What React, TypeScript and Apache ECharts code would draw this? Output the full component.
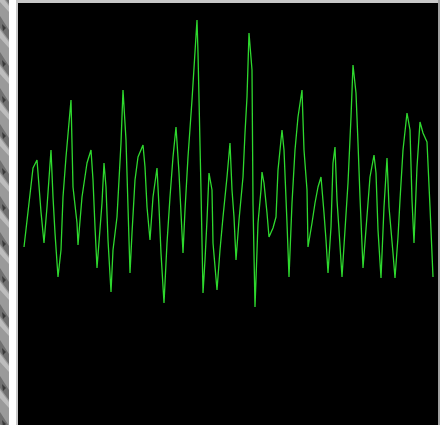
import React, { useEffect, useRef } from "react";
import * as echarts from "echarts";

// sample position (horizontal) and signal level
const sampleT = [
  6, 15, 19, 23, 26, 29, 33, 35, 37, 40, 43, 45, 48, 53, 55, 59, 60, 64, 69, 73,
  75, 77, 79, 84, 86, 88, 90, 93, 95, 99, 103, 105, 108, 110, 112, 114, 117, 120, 125, 127,
  129, 132, 135, 139, 141, 143, 146, 149, 152, 155, 158, 161, 165, 167, 170, 174, 179, 180, 183, 185,
  187, 189, 191, 194, 195, 199, 202, 205, 209, 212, 214, 216, 218, 221, 225, 227, 229, 231, 234, 235,
  237, 240, 243, 244, 246, 249, 251, 255, 258, 260, 264, 266, 269, 271, 274, 277, 280, 284, 286, 289,
  290, 294, 297, 300, 303, 306, 308, 310, 313, 315, 317, 319, 321, 324, 327, 330, 333, 335, 338, 340,
  342, 345, 350, 352, 356, 358, 360, 363, 366, 369, 371, 375, 377, 380, 382, 385, 389, 392, 394, 396,
  399, 402, 405, 409, 412, 415,
];
const signal = [
  178, 257, 265, 213, 182, 218, 275, 228, 192, 148, 175, 228, 268, 325, 238, 202, 180, 228, 262, 275,
  245, 198, 157, 222, 262, 238, 185, 133, 175, 208, 282, 335, 285, 218, 152, 192, 245, 268, 280, 258,
  218, 185, 228, 257, 218, 172, 122, 182, 228, 268, 298, 252, 172, 215, 268, 325, 405, 372, 235, 132,
  165, 205, 252, 235, 182, 135, 175, 208, 248, 282, 235, 208, 165, 205, 248, 292, 328, 392, 355, 222,
  118, 202, 235, 253, 242, 212, 188, 197, 208, 255, 295, 275, 202, 148, 222, 275, 308, 335, 275, 235,
  178, 202, 222, 238, 248, 212, 185, 152, 198, 262, 278, 225, 195, 148, 195, 242, 308, 360, 332, 282,
  228, 157, 222, 248, 270, 252, 195, 147, 218, 267, 218, 172, 147, 188, 225, 275, 312, 295, 225, 182,
  258, 303, 292, 283, 218, 148,
];

const seriesData = sampleT.map((t, i) => [t, signal[i]]);

export default function App() {
  const ref = useRef<HTMLDivElement>(null);
  useEffect(() => {
    if (!ref.current) return;
    const chart = echarts.init(ref.current, null, { renderer: "svg" });
    const ropeMarks: any[] = [];
    for (let y = -20; y < 425; y += 36) {
      ropeMarks.push({
        type: "polygon",
        shape: { points: [[0, y], [9, y + 14], [9, y + 24], [0, y + 12]] },
        style: { fill: "#707070" },
        silent: true,
      });
      ropeMarks.push({
        type: "polygon",
        shape: { points: [[0, y + 14], [9, y + 26], [9, y + 32], [0, y + 22]] },
        style: { fill: "#bdbdbd" },
        silent: true,
      });
      ropeMarks.push({
        type: "polygon",
        shape: { points: [[2, y + 8], [6, y + 12], [3, y + 15]] },
        style: { fill: "#3a3a3a" },
        silent: true,
      });
    }
    chart.setOption({
      animation: false,
      backgroundColor: "#ffffff",
      grid: {
        left: 18,
        top: 3,
        width: 420,
        height: 422,
        show: true,
        backgroundColor: "#000000",
        borderWidth: 0,
      },
      xAxis: { type: "value", min: 0, max: 420, show: false },
      yAxis: { type: "value", min: 0, max: 422, show: false },
      graphic: [
        { type: "rect", shape: { x: 0, y: 0, width: 9, height: 425 }, style: { fill: "#9a9a9a" }, silent: true },
        ...ropeMarks,
        { type: "rect", shape: { x: 16, y: 0, width: 2, height: 425 }, style: { fill: "#c8c8c8" }, silent: true },
        { type: "rect", shape: { x: 16, y: 0, width: 424, height: 3 }, style: { fill: "#c8c8c8" }, silent: true },
        { type: "rect", shape: { x: 438, y: 0, width: 2, height: 425 }, style: { fill: "#a0a0a0" }, silent: true },
      ],
      series: [
        {
          type: "line",
          data: seriesData,
          showSymbol: false,
          silent: true,
          lineStyle: { color: "#2ed82e", width: 1.3 },
          z: 5,
        },
      ],
    });
    return () => chart.dispose();
  }, []);
  return (
    <div
      ref={ref}
      style={{ position: "absolute", left: 0, top: 0, width: 440, height: 425 }}
    />
  );
}
